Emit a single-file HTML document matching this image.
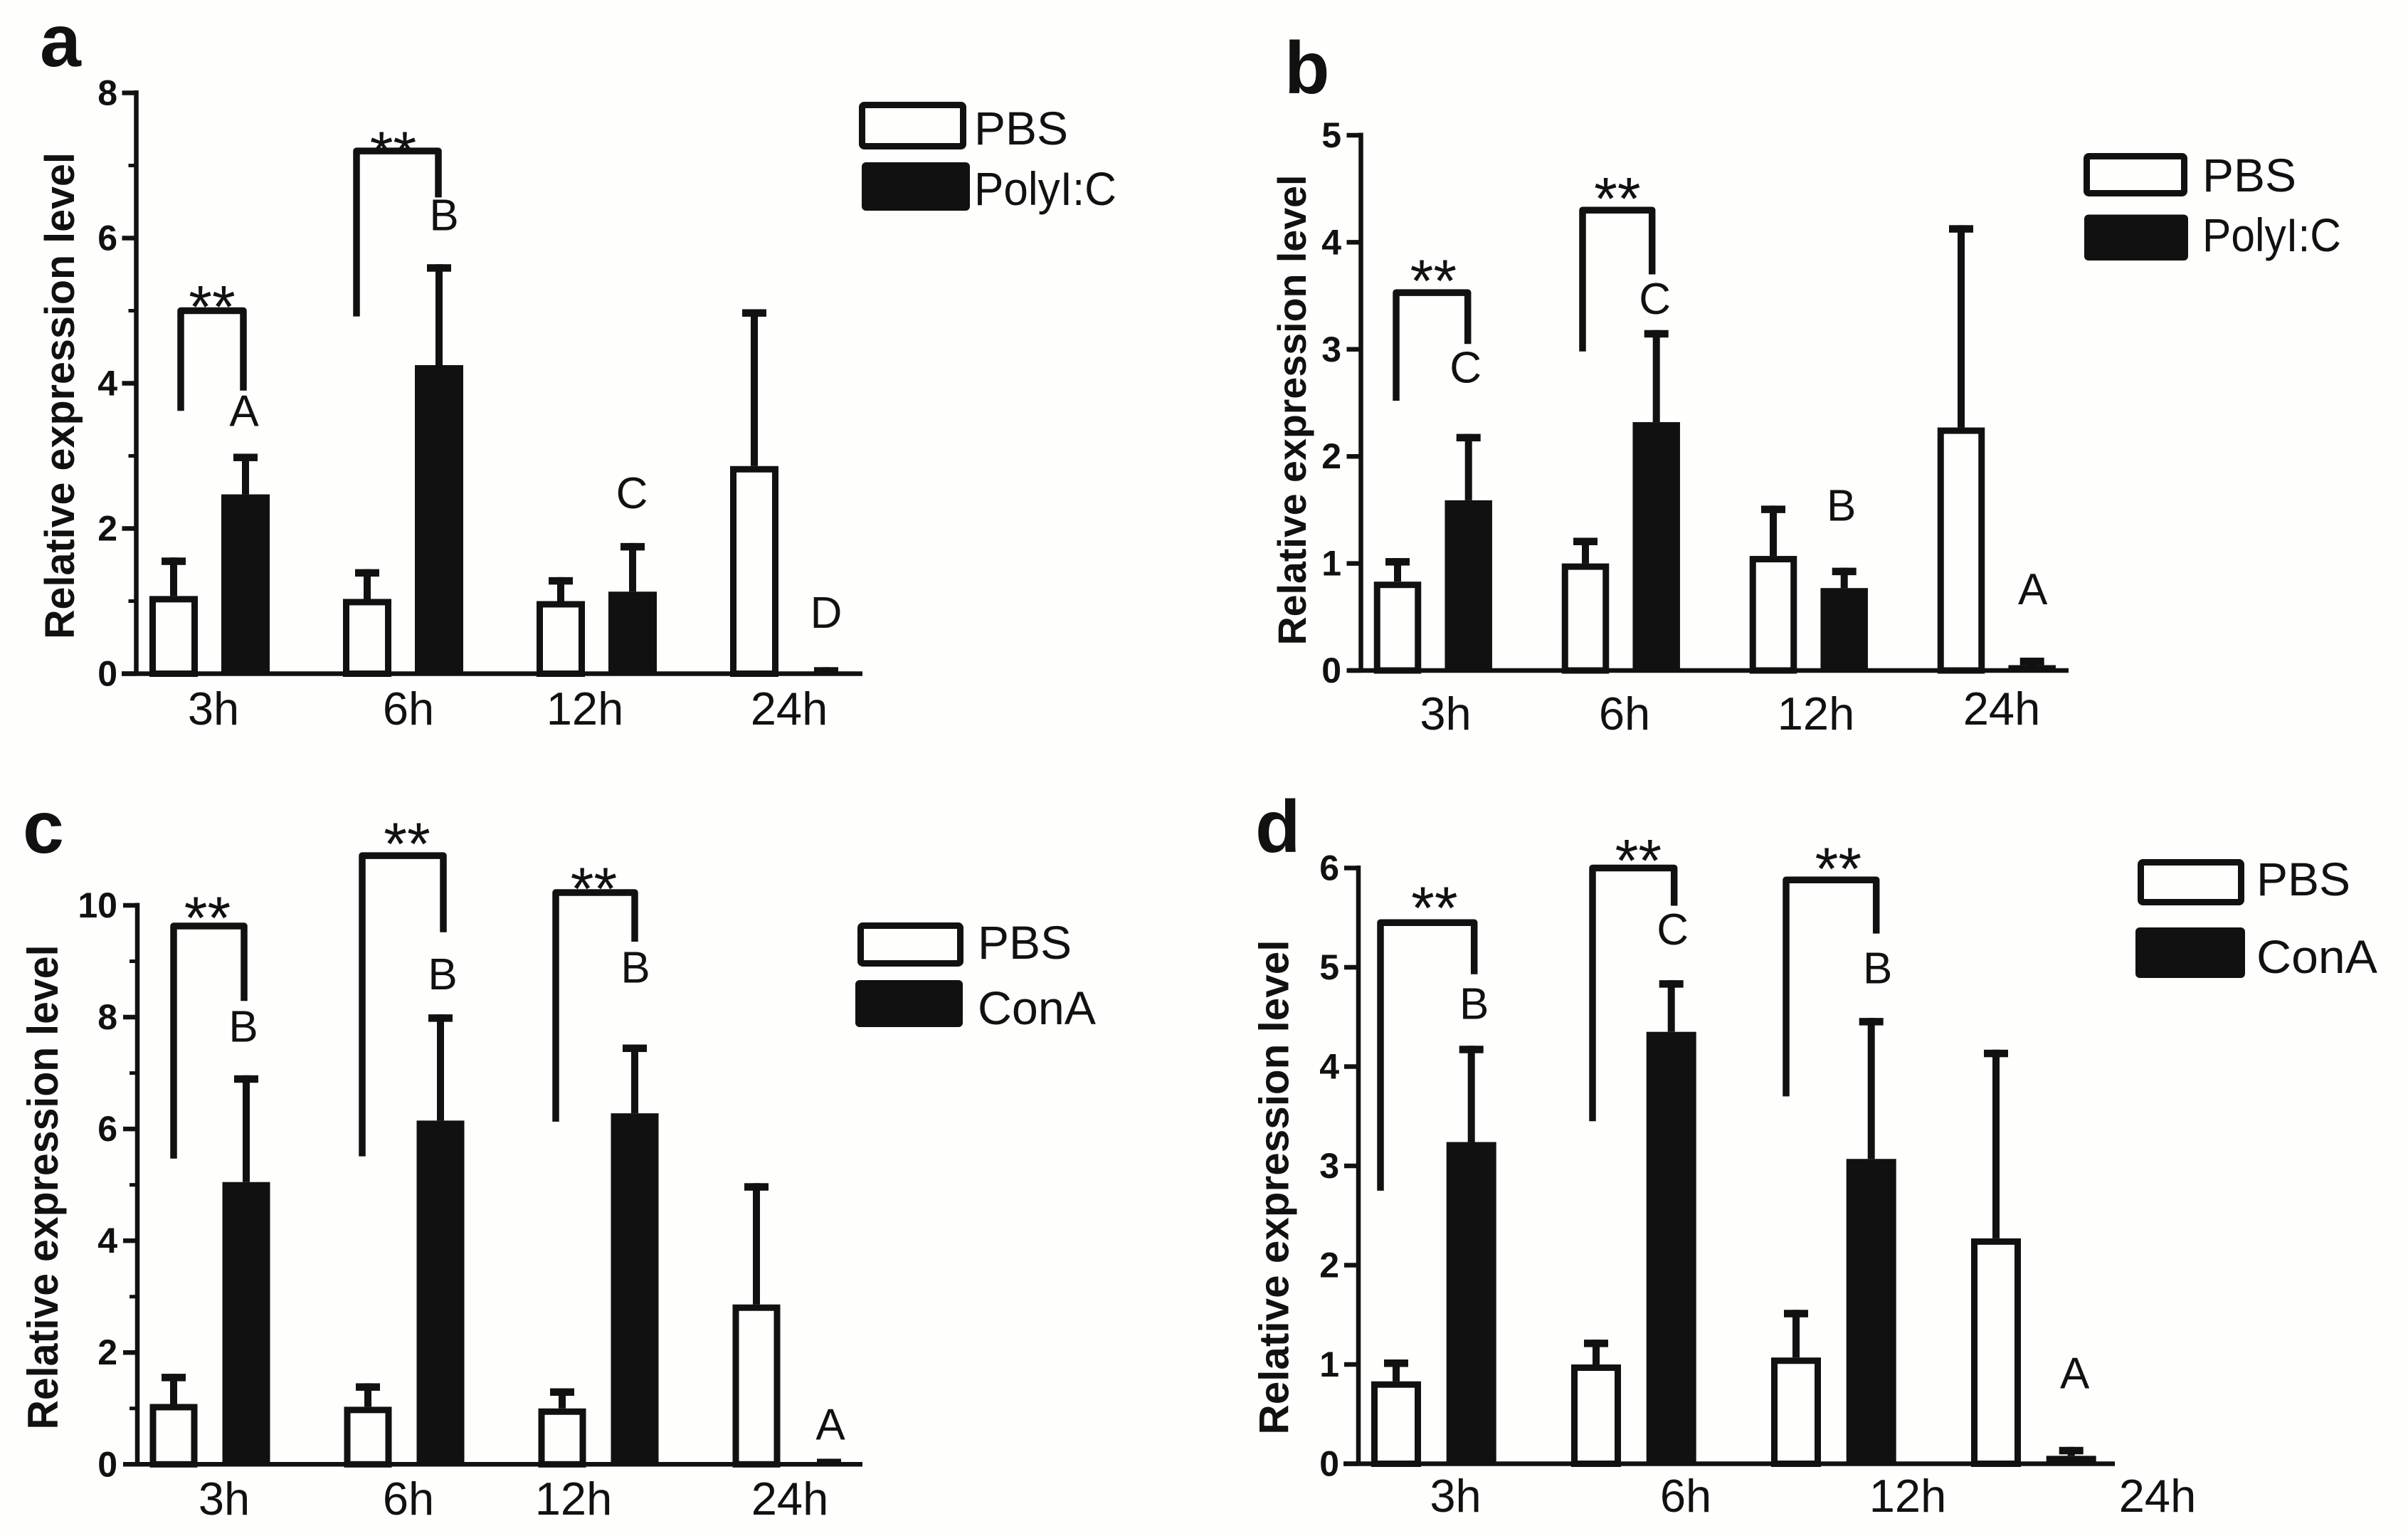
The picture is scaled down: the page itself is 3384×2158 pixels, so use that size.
<!DOCTYPE html>
<html lang="en">
<head>
<meta charset="utf-8">
<title>Relative expression level panels a-d</title>
<style>
html,body{margin:0;padding:0;background:#fefefd;}
svg{display:block;}
text{font-family:"Liberation Sans",Arial,sans-serif;fill:#111;}
</style>
</head>
<body>
<svg id="figure" xmlns="http://www.w3.org/2000/svg" width="3384" height="2158" viewBox="0 0 3384 2158"></svg>
<script>
// ---- shared categories ----
const categories = ['3h', '6h', '12h', '24h'];

// ---- panel a ----
const aTicks = [0, 2, 4, 6, 8];
const aMinorTicks = [1, 3, 5, 7];
const aPbs = [1.07, 1.03, 1.0, 2.86];
const aStim = [2.47, 4.25, 1.13, 0.03];
const aPbsErr = [1.6, 1.44, 1.33, 5.02];
const aStimErr = [3.03, 5.64, 1.8, 0.09];
const aBracketTop = [5.0, 7.2];
const aBracketLeft = [3.62, 4.92];
const aBracketRight = [3.9, 6.56];
const aLetters = ['A', 'B', 'C', 'D'];
const aLetterHeights = [3.41, 6.11, 2.28, 0.63];

// ---- panel b ----
const bTicks = [0, 1, 2, 3, 4, 5];
const bMinorTicks = [];
const bPbs = [0.83, 1.0, 1.07, 2.27];
const bStim = [1.59, 2.32, 0.77, 0.05];
const bPbsErr = [1.05, 1.24, 1.54, 4.16];
const bStimErr = [2.21, 3.18, 0.96, 0.12];
const bBracketTop = [3.53, 4.3];
const bBracketLeft = [2.52, 2.98];
const bBracketRight = [3.05, 3.7];
const bLetters = ['C', 'C', 'B', 'A'];
const bLetterHeights = [2.69, 3.33, 1.4, 0.62];

// ---- panel c ----
const cTicks = [0, 2, 4, 6, 8, 10];
const cMinorTicks = [1, 3, 5, 7, 9];
const cPbs = [1.08, 1.03, 1.0, 2.86];
const cStim = [5.05, 6.15, 6.28, 0.02];
const cPbsErr = [1.62, 1.45, 1.36, 5.03];
const cStimErr = [6.96, 8.05, 7.51, 0.1];
const cBracketTop = [9.63, 10.89, 10.23];
const cBracketLeft = [5.47, 5.51, 6.13];
const cBracketRight = [8.29, 9.52, 9.35];
const cLetters = ['B', 'B', 'B', 'A'];
const cLetterHeights = [7.56, 8.5, 8.62, 0.44];

// ---- panel d ----
const dTicks = [0, 1, 2, 3, 4, 5, 6];
const dMinorTicks = [];
const dPbs = [0.83, 1.0, 1.07, 2.27];
const dStim = [3.24, 4.35, 3.07, 0.08];
const dPbsErr = [1.05, 1.25, 1.55, 4.17];
const dStimErr = [4.21, 4.87, 4.49, 0.17];
const dBracketTop = [5.45, 6.0, 5.88];
const dBracketLeft = [2.75, 3.45, 3.7];
const dBracketRight = [4.93, 5.62, 5.34];
const dLetters = ['B', 'C', 'B', 'A'];
const dLetterHeights = [4.48, 5.23, 4.84, 0.76];

// ---- page layout (geometry only, no data) ----
const panels = [
  {id:'a', letter:{x:56,y:93}, spineX:191.5, y0:946.5, yTop:130.5, lineLeft:171, lineRight:1212,
   first:244, step:272, offset:101, bw:68, tickLabelX:165,
   ticks:aTicks, minor:aMinorTicks, pbs:aPbs, stim:aStim, pbsErr:aPbsErr, stimErr:aStimErr,
   brTop:aBracketTop, brL:aBracketLeft, brR:aBracketRight,
   brDxL:[10,-15], brDxR:[-3,-1], starDx:[0,-6], starDy:[24,16],
   letters:aLetters, letterH:aLetterHeights, letterDx:[-2,7,-1,0],
   labelX:[300,574,822,1109], labelY:[1018,1018,1018,1018],
   title:{x:104,y:556,len:684,size:58},
   legend:{stim:'PolyI:C', stimLen:200, a:[1207,143,151,67], b:[1211,228,152,68], tx:1369, t1:203, t2:288}},
  {id:'b', letter:{x:1805,y:131}, spineX:1912.5, y0:942, yTop:190, lineLeft:1895, lineRight:2907,
   first:1964, step:264, offset:99.7, bw:66.5, tickLabelX:1885,
   ticks:bTicks, minor:bMinorTicks, pbs:bPbs, stim:bStim, pbsErr:bPbsErr, stimErr:bStimErr,
   brTop:bBracketTop, brL:bBracketLeft, brR:bBracketRight,
   brDxL:[-2,-4], brDxR:[-1,-6], starDx:[2,0], starDy:[35,35],
   letters:bLetters, letterH:bLetterHeights, letterDx:[-4,-2,-4,1],
   labelX:[2031.5,2283,2552,2813], labelY:[1025,1025,1025,1018],
   title:{x:1835,y:576,len:661,size:56},
   legend:{stim:'PolyI:C', stimLen:195, a:[2928,215,146,61], b:[2929,301.5,146,64.5], tx:3095, t1:269, t2:353}},
  {id:'c', letter:{x:32,y:1198}, spineX:193, y0:2057.3, yTop:1272, lineLeft:173, lineRight:1212,
   first:244, step:273, offset:102, bw:67, tickLabelX:165,
   ticks:cTicks, minor:cMinorTicks, pbs:cPbs, stim:cStim, pbsErr:cPbsErr, stimErr:cStimErr,
   brTop:cBracketTop, brL:cBracketLeft, brR:cBracketRight,
   brDxL:[0,-8,-9], brDxR:[-3,4,0], starDx:[-2,6,-2], starDy:[30,35,24],
   letters:cLetters, letterH:cLetterHeights, letterDx:[-4,3,1,2],
   labelX:[315,574,806,1110], labelY:[2128,2128,2128,2128],
   title:{x:81,y:1668,len:681,size:60},
   legend:{stim:'ConA', stimLen:166, a:[1205,1296,149,62], b:[1202,1377,151,66], tx:1374, t1:1347, t2:1439}},
  {id:'d', letter:{x:1764,y:1197}, spineX:1909, y0:2056.5, yTop:1219.5, lineLeft:1888, lineRight:2972,
   first:1962, step:281, offset:105.7, bw:70, tickLabelX:1882,
   ticks:dTicks, minor:dMinorTicks, pbs:dPbs, stim:dStim, pbsErr:dPbsErr, stimErr:dStimErr,
   brTop:dBracketTop, brL:dBracketLeft, brR:dBracketRight,
   brDxL:[-22,-5,-14], brDxR:[4,4,7], starDx:[10,7,10], starDy:[39,29,34],
   letters:dLetters, letterH:dLetterHeights, letterDx:[4,2,9,5],
   labelX:[2045.5,2369,2681,3032], labelY:[2124,2124,2124,2124],
   title:{x:1810.5,y:1668,len:695,size:58},
   legend:{stim:'ConA', stimLen:170, a:[3004,1207,150,65], b:[3001,1303,154,71], tx:3171, t1:1258, t2:1367}}
];

const INK = '#111';
const SVG_NS = 'http://www.w3.org/2000/svg';
const root = document.getElementById('figure');

function make(parent, tag, attrs, content) {
  const node = document.createElementNS(SVG_NS, tag);
  for (const key in attrs) node.setAttribute(key, attrs[key]);
  if (content !== undefined) node.textContent = content;
  parent.appendChild(node);
  return node;
}

function drawPanel(p) {
  const group = make(root, 'g', {});
  
  

  const maxTick = p.ticks[p.ticks.length - 1];
  const yScale = v => p.y0 - (v / maxTick) * (p.y0 - p.yTop);
  const xPbs = i => p.first + p.step * i;
  const xStim = i => xPbs(i) + p.offset;

  // panel letter
  const panelLabel = make(group, 'text', {x:p.letter.x, y:p.letter.y, 'font-size':104, 'font-weight':'bold'}, p.id);
  
  

  // y axis title
  const title = make(group, 'text', {
    transform:'translate(' + p.title.x + ',' + p.title.y + ') rotate(-90)',
    'text-anchor':'middle', 'font-size':p.title.size, 'font-weight':'bold',
    textLength:p.title.len, lengthAdjust:'spacingAndGlyphs'
  }, 'Relative expression level');
  
  

  // y axis spine
  const spine = make(group, 'line', {x1:p.spineX, x2:p.spineX, y1:yScale(maxTick) - 3.5, y2:p.y0 + 3, stroke:INK, 'stroke-width':6.5});
  
  

  // major ticks and labels
  p.ticks.forEach(v => {
    const tick = make(group, 'line', {x1:p.spineX - 20, x2:p.spineX, y1:yScale(v), y2:yScale(v), stroke:INK, 'stroke-width':6.5});
    
    
    const label = make(group, 'text', {x:p.tickLabelX, y:yScale(v) + 17, 'text-anchor':'end', 'font-size':50, 'font-weight':'bold'}, String(v));
    
    
  });

  // minor ticks
  p.minor.forEach(v => {
    const tick = make(group, 'line', {x1:p.spineX - 11, x2:p.spineX, y1:yScale(v), y2:yScale(v), stroke:INK, 'stroke-width':5});
    
    
  });

  // error bars and bars
  categories.forEach((cat, i) => {
    [['pbs', p.pbs, p.pbsErr, xPbs(i)], ['stim', p.stim, p.stimErr, xStim(i)]].forEach(entry => {
      const kind = entry[0], cx = entry[3];
      const top = yScale(entry[1][i]);
      const errTop = yScale(entry[2][i]);
      const stem = make(group, 'line', {x1:cx, x2:cx, y1:top, y2:errTop, stroke:INK, 'stroke-width':10});
      
      
      const cap = make(group, 'rect', {x:cx - 17, y:errTop, width:34, height:10.5, fill:INK});
      
      
      let bar;
      if (kind === 'pbs') {
        bar = make(group, 'rect', {x:cx - p.bw / 2 + 4.5, y:top + 4.5, width:p.bw - 9, height:Math.max(p.y0 - top - 4.5, 0), fill:'#fefefd', stroke:INK, 'stroke-width':9});
      } else {
        bar = make(group, 'rect', {x:cx - p.bw / 2, y:top, width:p.bw, height:Math.max(p.y0 - top, 0), fill:INK});
      }
      
      
    });

    // category label
    const catLabel = make(group, 'text', {x:p.labelX[i], y:p.labelY[i], 'text-anchor':'middle', 'font-size':65}, cat);
    
    

    // significance letter
    const letter = make(group, 'text', {x:xStim(i) + p.letterDx[i], y:yScale(p.letterH[i]), 'text-anchor':'middle', 'font-size':62}, p.letters[i]);
    
    
  });

  // x axis line
  const xLine = make(group, 'line', {x1:p.lineLeft, x2:p.lineRight, y1:p.y0, y2:p.y0, stroke:INK, 'stroke-width':6.5});
  
  

  // significance brackets
  p.brTop.forEach((v, i) => {
    const xl = xPbs(i) + p.brDxL[i];
    const xr = xStim(i) + p.brDxR[i];
    const yt = yScale(v);
    const bracket = make(group, 'path', {
      d:'M' + xl + ' ' + yScale(p.brL[i]) + ' L' + xl + ' ' + yt + ' L' + xr + ' ' + yt + ' L' + xr + ' ' + yScale(p.brR[i]),
      fill:'none', stroke:INK, 'stroke-width':9.5, 'stroke-linejoin':'round'
    });
    
    
    const stars = make(group, 'text', {x:(xl + xr) / 2 + p.starDx[i], y:yt - p.starDy[i] + 47.5, 'text-anchor':'middle', 'font-size':84}, '**');
    
    
  });

  // legend
  const lg = p.legend;
  const legend = make(group, 'g', {});
  
  
  const swatchPbs = make(legend, 'rect', {x:lg.a[0] + 4.5, y:lg.a[1] + 4.5, width:lg.a[2] - 9, height:lg.a[3] - 9, rx:3, fill:'#fefefd', stroke:INK, 'stroke-width':9});
  
  
  const swatchStim = make(legend, 'rect', {x:lg.b[0], y:lg.b[1], width:lg.b[2], height:lg.b[3], rx:6, fill:INK});
  
  
  const textPbs = make(legend, 'text', {x:lg.tx, y:lg.t1, 'font-size':66}, 'PBS');
  
  
  const textStim = make(legend, 'text', {x:lg.tx, y:lg.t2, 'font-size':66, textLength:lg.stimLen, lengthAdjust:'spacingAndGlyphs'}, lg.stim);
  
  
}

panels.forEach(drawPanel);
</script>
</body>
</html>
